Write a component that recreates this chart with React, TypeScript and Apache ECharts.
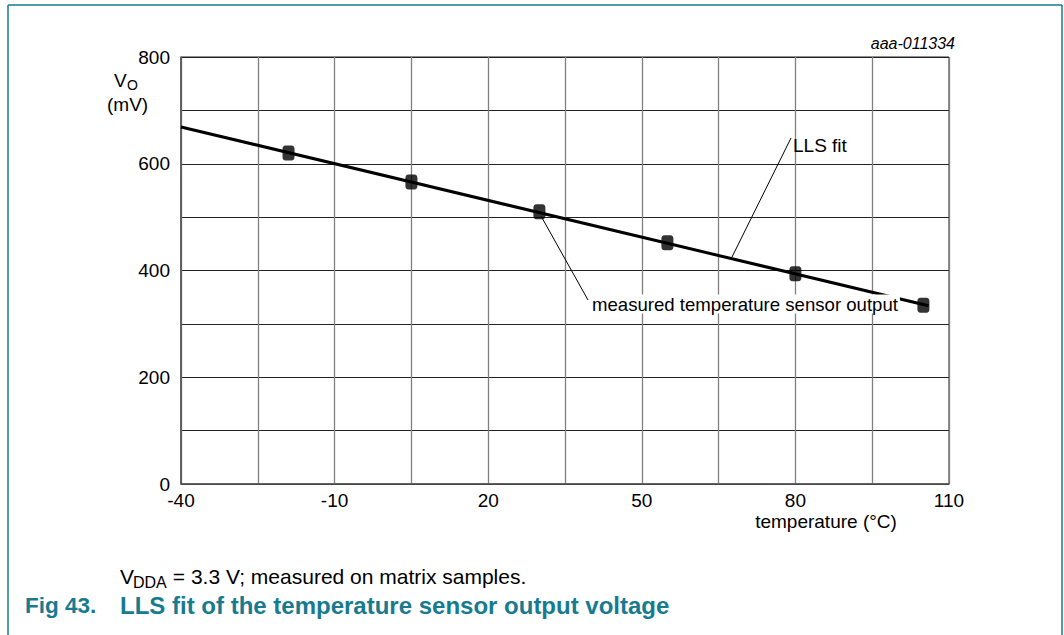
import React, { useEffect, useRef } from "react";
import * as echarts from "echarts";

// Data
const measuredTemps = [-19, 5, 30, 55, 80, 105];
const measuredVo = [620, 566, 510, 452, 394, 335];
const fitTemps = [-40, 106];
const fitVo = [669, 334];
const xLabelValues = [-40, -10, 20, 50, 80, 110];
const yLabelValues = [0, 200, 400, 600, 800];

const FONT = "'Liberation Sans', Arial, sans-serif";
const TEAL = "#177b8f";
const FS = 19;

export default function App() {
  const ref = useRef<HTMLDivElement>(null);
  useEffect(() => {
    if (!ref.current) return;
    const chart = echarts.init(ref.current, null, { renderer: "svg" });
    const measured = measuredTemps.map((t, i) => [t, measuredVo[i]]);
    const fit = fitTemps.map((t, i) => [t, fitVo[i]]);
    chart.setOption({
      animation: false,
      backgroundColor: "#fff",
      textStyle: { fontFamily: FONT },
      grid: {
        left: 181,
        top: 57,
        width: 768,
        height: 427,
        show: true,
        borderColor: "#222",
        borderWidth: 1,
        backgroundColor: "transparent",
      },
      xAxis: {
        type: "value",
        min: -40,
        max: 110,
        interval: 15,
        axisLine: { show: true, onZero: false, lineStyle: { color: "#555", width: 1.5 } },
        axisTick: { show: false },
        splitLine: { show: true, lineStyle: { color: "#808080", width: 1.3 } },
        axisLabel: {
          color: "#000",
          fontSize: FS,
          fontFamily: FONT,
          margin: 7,
          formatter: (v: number) => (xLabelValues.includes(v) ? String(v) : ""),
        },
      },
      yAxis: {
        type: "value",
        min: 0,
        max: 800,
        interval: 100,
        axisLine: { show: true, onZero: false, lineStyle: { color: "#555", width: 1.5 } },
        axisTick: { show: false },
        splitLine: { show: true, lineStyle: { color: "#222", width: 1 } },
        axisLabel: {
          color: "#000",
          fontSize: FS,
          fontFamily: FONT,
          margin: 11,
          formatter: (v: number) => (yLabelValues.includes(v) ? String(v) : ""),
        },
      },
      series: [
        {
          type: "line",
          data: fit,
          showSymbol: false,
          symbol: "none",
          lineStyle: { color: "#000", width: 3 },
          z: 2,
        },
        {
          type: "scatter",
          data: measured,
          symbol: "roundRect",
          symbolSize: [12, 15],
          itemStyle: { color: "#000" },
          z: 3,
        },
      ],
      graphic: [
        // frame
        { type: "line", shape: { x1: 8, y1: 5, x2: 1062, y2: 5 }, style: { stroke: TEAL, lineWidth: 1.5 } },
        { type: "line", shape: { x1: 8, y1: 5, x2: 8, y2: 635 }, style: { stroke: TEAL, lineWidth: 1.5 } },
        { type: "line", shape: { x1: 1062, y1: 5, x2: 1062, y2: 635 }, style: { stroke: TEAL, lineWidth: 1.5 } },
        // id
        {
          type: "text",
          x: 955,
          y: 43,
          style: { text: "aaa-011334", fontSize: 16, fontStyle: "italic", fontFamily: FONT, fill: "#000", align: "right", verticalAlign: "middle" },
        },
        // y-axis name
        { type: "text", x: 114, y: 80, style: { text: "V", fontSize: FS, fontFamily: FONT, fill: "#000", verticalAlign: "middle" } },
        { type: "text", x: 127, y: 85, style: { text: "O", fontSize: 14, fontFamily: FONT, fill: "#000", verticalAlign: "middle" } },
        { type: "text", x: 107, y: 104, style: { text: "(mV)", fontSize: FS, fontFamily: FONT, fill: "#000", verticalAlign: "middle" } },
        // x-axis name
        { type: "text", x: 826, y: 521, style: { text: "temperature (°C)", fontSize: FS, fontFamily: FONT, fill: "#000", align: "center", verticalAlign: "middle" } },
        // annotations
        { type: "line", shape: { x1: 791, y1: 138, x2: 732, y2: 257 }, style: { stroke: "#000", lineWidth: 1 }, z: 10 },
        { type: "text", x: 793, y: 145, style: { text: "LLS fit", fontSize: FS, fontFamily: FONT, fill: "#000", verticalAlign: "middle" }, z: 10 },
        { type: "line", shape: { x1: 541, y1: 216, x2: 588, y2: 300 }, style: { stroke: "#000", lineWidth: 1 }, z: 10 },
        {
          type: "text",
          x: 590,
          y: 304,
          z: 10,
          style: {
            text: "measured temperature sensor output",
            fontSize: 18.6,
            fontFamily: FONT,
            fill: "#000",
            verticalAlign: "middle",
            backgroundColor: "#fff",
            padding: [0, 2, 0, 2],
          },
        },
        // captions
        { type: "text", x: 120, y: 576, style: { text: "V", fontSize: 21, fontFamily: FONT, fill: "#000", verticalAlign: "middle" } },
        { type: "text", x: 133, y: 582, style: { text: "DDA", fontSize: 16, fontFamily: FONT, fill: "#000", verticalAlign: "middle" } },
        { type: "text", x: 167, y: 576, style: { text: " = 3.3 V; measured on matrix samples.", fontSize: 21, fontFamily: FONT, fill: "#000", verticalAlign: "middle" } },
        { type: "text", x: 25, y: 605, style: { text: "Fig 43.", fontSize: 22.5, fontWeight: "bold", fontFamily: FONT, fill: TEAL, verticalAlign: "middle" } },
        { type: "text", x: 120, y: 605, style: { text: "LLS fit of the temperature sensor output voltage", fontSize: 24, fontWeight: "bold", fontFamily: FONT, fill: TEAL, verticalAlign: "middle" } },
      ],
    });
    return () => chart.dispose();
  }, []);
  return <div ref={ref} style={{ position: "fixed", left: 0, top: 0, width: 1064, height: 635 }} />;
}
